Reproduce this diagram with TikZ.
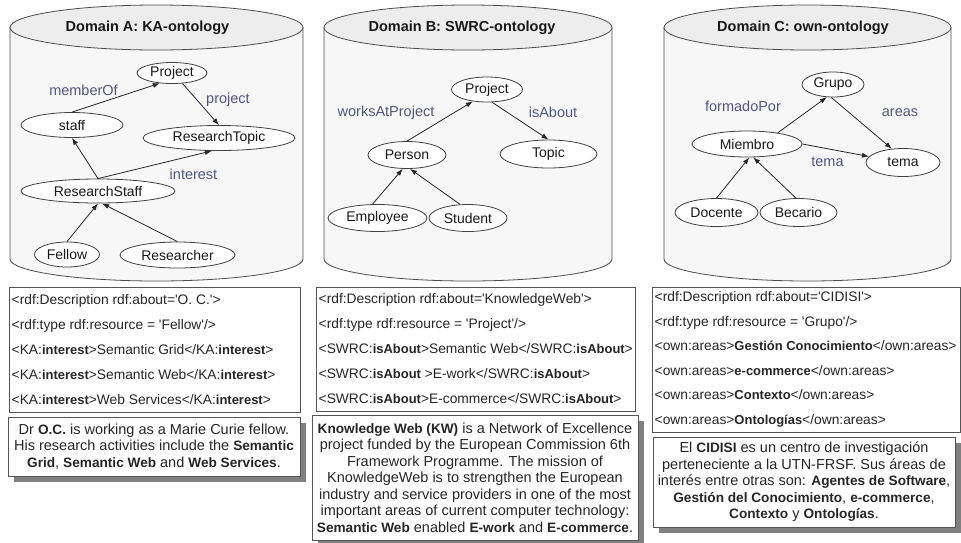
\documentclass[tikz,border=0pt]{standalone}
\usepackage{fontspec}
\setmainfont{Liberation Sans}[Ligatures=TeXOff]
\newfontfamily\vb{Liberation Sans}[Scale=0.94,Ligatures=TeXOff]
\newcommand\B[1]{{\vb\bfseries #1}}
\usetikzlibrary{shapes.geometric,arrows.meta,shadows}
\definecolor{cylfill}{HTML}{F7F7F7}
\definecolor{topfill}{HTML}{EDEDED}
\definecolor{lblcol}{HTML}{55557F}
\definecolor{boxline}{HTML}{555555}
\begin{document}
\begin{tikzpicture}[x=1pt,y=-1pt,
 onode/.style={ellipse, draw=black!75, fill=white, line width=0.8pt, inner sep=0pt, font=\fontsize{14}{16}\selectfont, text=black!90},
 arr/.style={-{Latex[length=7pt,width=5pt]}, line width=0.8pt, draw=black!85},
 elabel/.style={text=lblcol, font=\fontsize{14.5}{16}\selectfont, inner sep=0pt},
 titlenode/.style={font=\fontsize{14.5}{16}\selectfont\bfseries, inner sep=0pt, text=black!90},
 cyl/.style={draw=black!70, line width=0.8pt, fill=cylfill},
 boxframe/.style={draw=boxline, line width=0.8pt, fill=white},
 codetext/.style={anchor=west, align=left, inner sep=0pt, font=\fontsize{13.8}{25}\selectfont, text=black!85},
 textbox/.style={draw=boxline, line width=0.8pt, fill=white, align=center, inner sep=0pt, font=\fontsize{14.5}{16.5}\selectfont, text=black!85, drop shadow={shadow xshift=6pt, shadow yshift=-6pt, fill=black!50, opacity=1}}
]
\useasboundingbox (0,0) rectangle (961,542);
% cylinders
\path[cyl] (10,27.5) -- (10,259) .. controls (10,271.15) and (75.6,281) .. (156.5,281) .. controls (237.4,281) and (303,271.15) .. (303,259) -- (303,27.5) -- cycle;
\path[cyl,fill=topfill] (156.5,27.5) ellipse [x radius=146.5, y radius=22.5];
\path[cyl] (324,27.5) -- (324,259) .. controls (324,271.15) and (388.5,281) .. (468,281) .. controls (547.5,281) and (612,271.15) .. (612,259) -- (612,27.5) -- cycle;
\path[cyl,fill=topfill] (468,27.5) ellipse [x radius=144, y radius=22.5];
\path[cyl] (664,27.5) -- (664,259) .. controls (664,271.15) and (728.25,281) .. (807.5,281) .. controls (886.75,281) and (951,271.15) .. (951,259) -- (951,27.5) -- cycle;
\path[cyl,fill=topfill] (807.5,27.5) ellipse [x radius=143.5, y radius=22.5];
\node[titlenode] (tA) at (147.5,28) {Domain A: KA-ontology};
\node[titlenode] (tB) at (462,28) {Domain B: SWRC-ontology};
\node[titlenode] (tC) at (803,28) {Domain C: own-ontology};
% Domain A
\node[onode, minimum width=70pt, minimum height=21pt] (pA) at (172,73) {Project};
\node[onode, minimum width=102pt, minimum height=25pt] (staff) at (72,125) {staff};
\node[onode, minimum width=152pt, minimum height=25pt] (rt) at (219,138) {ResearchTopic};
\node[onode, minimum width=154pt, minimum height=24pt] (rs) at (98,191) {ResearchStaff};
\node[onode, minimum width=65pt, minimum height=25pt] (fellow) at (67,254.5) {Fellow};
\node[onode, minimum width=115pt, minimum height=26pt] (researcher) at (177.5,255) {Researcher};
\draw[arr] (staff.north) -- (pA.220);
\draw[arr] (pA.-45) -- (rt.north);
\draw[arr] (rs.north) -- (staff.south);
\draw[arr] (rs.north) -- (rt.241);
\draw[arr] (fellow.north) -- (rs.south);
\draw[arr] (researcher.north) -- (rs.-72);
\node[elabel] (lA1) at (83.5,90) {memberOf};
\node[elabel] (lA2) at (228,100) {project};
\node[elabel] (lA3) at (193.5,174) {interest};
% Domain B
\node[onode, minimum width=71pt, minimum height=25pt] (pB) at (487,89.5) {Project};
\node[onode, minimum width=97pt, minimum height=28pt] (topic) at (548.5,154) {Topic};
\node[onode, minimum width=78pt, minimum height=27pt] (person) at (407,155) {Person};
\node[onode, minimum width=99pt, minimum height=27pt] (employee) at (377.5,218) {Employee};
\node[onode, minimum width=78pt, minimum height=27pt] (student) at (468,218) {Student};
\draw[arr] (person.north) -- (pB.220);
\draw[arr] (pB.-68) -- (topic.north);
\draw[arr] (employee.110) -- (person.253);
\draw[arr] (student.120) -- (person.-78);
\node[elabel] (lB1) at (386,112.5) {worksAtProject};
\node[elabel] (lB2) at (553,112.5) {isAbout};
% Domain C
\node[onode, minimum width=62pt, minimum height=25pt] (grupo) at (833,84.5) {Grupo};
\node[onode, minimum width=110pt, minimum height=26pt] (miembro) at (747,144) {Miembro};
\node[onode, minimum width=74pt, minimum height=28pt] (tema) at (903,162.5) {tema};
\node[onode, minimum width=83pt, minimum height=28pt] (docente) at (716.5,212.5) {Docente};
\node[onode, minimum width=77pt, minimum height=28pt] (becario) at (798.5,212.5) {Becario};
\draw[arr] (miembro.20) -- (grupo.244);
\draw[arr] (grupo.262) -- (tema.129);
\draw[arr] (miembro.east) -- (tema.170);
\draw[arr] (docente.north) -- (miembro.-80);
\draw[arr] (becario.100) -- (miembro.-65);
\node[elabel] (lC1) at (743,106) {formadoPor};
\node[elabel] (lC2) at (900,112.5) {areas};
\node[elabel] (lC3) at (827.5,162) {tema};
% code boxes
\path[boxframe] (9,287) rectangle (300,412);
\path[boxframe] (316,287) rectangle (635,411);
\path[boxframe] (652,287) rectangle (960,432);
\node[codetext] (codeA) at (11.5,349.5) {<rdf:Description rdf:about='O. C.'>\\<rdf:type rdf:resource = 'Fellow'/>\\<KA:\B{interest}>Semantic Grid</KA:\B{interest}>\\<KA:\B{interest}>Semantic Web</KA:\B{interest}>\\<KA:\B{interest}>Web Services</KA:\B{interest}>};
\node[codetext] (codeB) at (318.5,349) {<rdf:Description rdf:about='KnowledgeWeb'>\\<rdf:type rdf:resource = 'Project'/>\\<SWRC:\B{isAbout}>Semantic Web</SWRC:\B{isAbout}>\\<SWRC:\B{isAbout} >E-work</SWRC:\B{isAbout}>\\<SWRC:\B{isAbout}>E-commerce</SWRC:\B{isAbout}>};
\node[codetext, font=\fontsize{13.8}{24.5}\selectfont] (codeC) at (654.5,359.5) {<rdf:Description rdf:about='CIDISI'>\\<rdf:type rdf:resource = 'Grupo'/>\\<own:areas>\B{Gestión Conocimiento}</own:areas>\\<own:areas>\B{e-commerce}</own:areas>\\<own:areas>\B{Contexto}</own:areas>\\<own:areas>\B{Ontologías}</own:areas>};
% text boxes
\node[textbox, minimum width=292pt, minimum height=59pt] (txtA) at (154,446.5) {Dr \B{O.C.} is working as a Marie Curie fellow.\\His research activities include the \B{Semantic}\\\B{Grid}, \B{Semantic Web} and \B{Web Services}.};
\node[textbox, minimum width=326pt, minimum height=125pt] (txtB) at (475,477.5) {\B{Knowledge Web (KW)} is a Network of Excellence\\project funded by the European Commission 6th\\Framework Programme. The mission of\\KnowledgeWeb is to strengthen the European\\industry and service providers in one of the most\\important areas of current computer technology:\\\B{Semantic Web} enabled \B{E-work} and \B{E-commerce}.};
\node[textbox, minimum width=302pt, minimum height=90pt] (txtC) at (804,482) {El \B{CIDISI} es un centro de investigación\\perteneciente a la UTN-FRSF. Sus áreas de\\interés entre otras son: \B{Agentes de Software},\\\B{Gestión del Conocimiento}, \B{e-commerce},\\\B{Contexto} y \B{Ontologías}.};
\end{tikzpicture}
\end{document}
